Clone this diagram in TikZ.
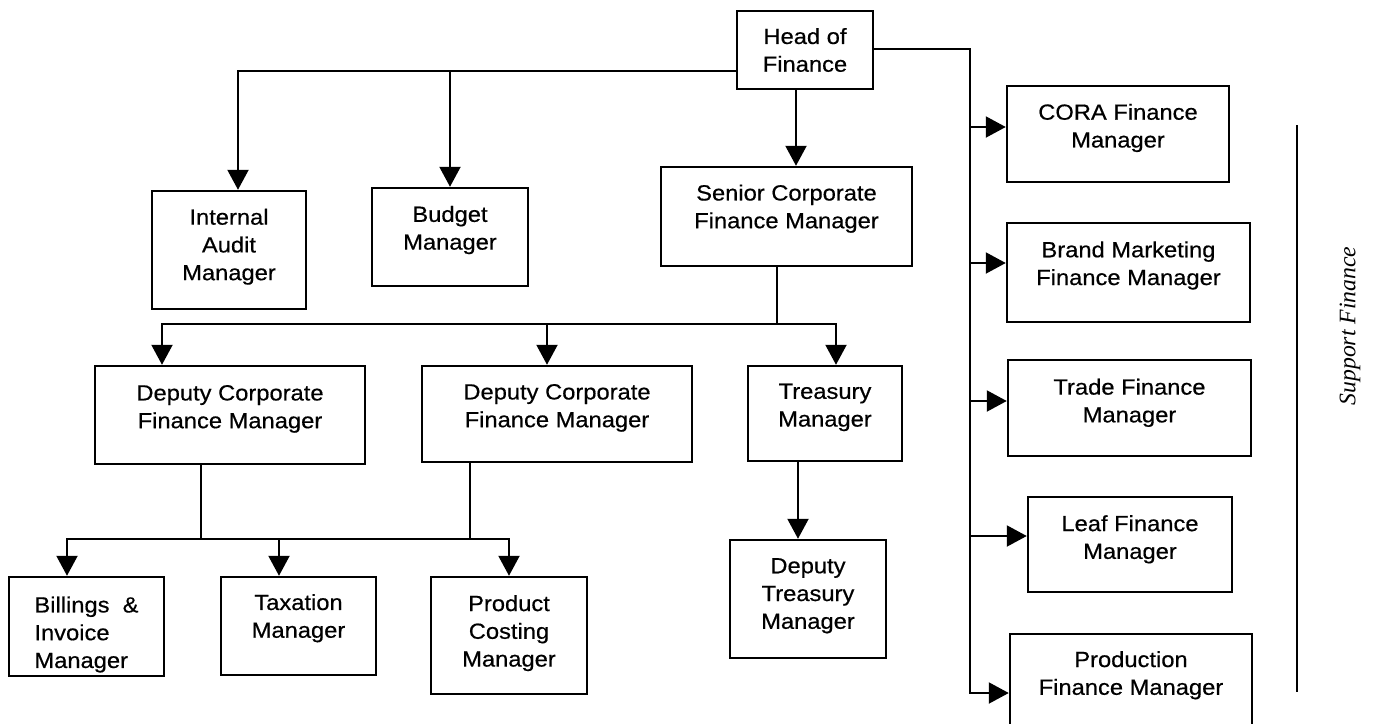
\documentclass[tikz,border=0pt]{standalone}
\usepackage{fontspec}
\setmainfont{Liberation Sans}[FakeStretch=1.08, FakeBold=0.5]
\newfontfamily\sidefont{Liberation Serif}
\usetikzlibrary{arrows.meta,calc}
\tikzset{
  box/.style   = {rectangle, draw=black, line width=1.4pt, align=center,
                  inner sep=0pt, font=\fontsize{12.5}{15.8}\selectfont},
  sz/.style 2 args = {minimum width=#1*0.02cm, minimum height=#2*0.02cm},
  up/.style    = {text depth=#1},
  up/.default  = 9.5pt,
  ln/.style    = {line width=1.2pt},
  arr/.style   = {ln, -{Triangle[length=0.4cm, width=0.42cm]}},
}

\begin{document}
\begin{tikzpicture}[x=0.02cm, y=-0.02cm]
  \clip (0,0) rectangle (1374,724);
  % top level
  \node[box, sz={136}{78}] (head) at (805,50) {Head of\\Finance};
  \node[box, up=6.3pt, sz={154}{118}] (audit) at (229,250) {Internal\\Audit\\Manager};
  \node[box, up=10.5pt, sz={156}{98}] (budget) at (450,237) {Budget\\Manager};
  \node[box, up=11.5pt, sz={251}{99}] (senior) at (786.5,216.5) {Senior Corporate\\Finance Manager};
  % corporate finance
  \node[box, up, sz={270}{98}] (dep1) at (230,415) {Deputy Corporate\\Finance Manager};
  \node[box, up, sz={270}{96}] (dep2) at (557,414) {Deputy Corporate\\Finance Manager};
  \node[box, up, sz={154}{95}] (treas) at (825,413.5) {Treasury\\Manager};
  \node[box, align=left, text height=49.8pt, sz={155}{99}] (bill) at (86.5,626.5) {Billings\ \ \&\\Invoice\\Manager};
  \node[box, up=11.5pt, sz={155}{98}] (tax) at (298.5,626) {Taxation\\Manager};
  \node[box, up=5.3pt, sz={156}{117}] (prod) at (509,635.5) {Product\\Costing\\Manager};
  \node[box, up=6.3pt, sz={156}{118}] (dtreas) at (808,599) {Deputy\\Treasury\\Manager};
  % support finance
  \node[box, up, sz={222}{96}] (cora) at (1118,134) {CORA Finance\\Manager};
  \node[box, up=10.6pt, sz={243}{99}] (brand) at (1128.5,272.5) {Brand Marketing\\Finance Manager};
  \node[box, up=8.5pt, sz={243}{96}] (trade) at (1129.5,408) {Trade Finance\\Manager};
  \node[box, up=8.5pt, sz={204}{95}] (leaf) at (1130,544.5) {Leaf Finance\\Manager};
  \node[box, up=16pt, sz={242}{106}] (pfin) at (1131,687) {Production\\Finance Manager};
  \node[rotate=90, font=\sidefont\itshape\fontsize{13.5}{16}\selectfont] (supp) at (1350,326) {Support Finance};

  % head -> audit, budget, senior
  \coordinate (hw) at ($(head.west)+(0,21)$);
  \coordinate (ain) at ($(audit.north)+(9,0)$);
  \draw[arr] (hw) -| (ain);
  \draw[arr] (hw -| budget.north) -- (budget.north);
  \coordinate (hs) at ($(head.south)+(-9,0)$);
  \draw[arr] (hs) -- (hs |- senior.north);

  % senior -> deputies, treasury
  \coordinate (ss) at ($(senior.south)+(-9.5,0)$);
  \coordinate (bus1) at ($(ss)+(0,57)$);
  \coordinate (d1in) at ($(dep1.north)+(-68,0)$);
  \coordinate (d2in) at ($(dep2.north)+(-10,0)$);
  \coordinate (trin) at ($(treas.north)+(11,0)$);
  \draw[arr] (ss) -- (bus1) -| (d1in);
  \draw[arr] (bus1) -| (trin);
  \draw[arr] (d2in |- bus1) -- (d2in);

  % deputies -> billings, taxation, costing
  \coordinate (d1out) at ($(dep1.south)+(-29,0)$);
  \coordinate (d2out) at ($(dep2.south)+(-87,0)$);
  \coordinate (bus2) at ($(d1out)+(0,74)$);
  \coordinate (bin) at ($(bill.north)+(-19.5,0)$);
  \coordinate (tin) at ($(tax.north)+(-19.5,0)$);
  \draw[arr] (d1out) -- (bus2) -| (bin);
  \draw[arr] (d2out) -- (d2out |- bus2) -| (prod.north);
  \draw[ln] (bus2) -- (d2out |- bus2);
  \draw[arr] (tin |- bus2) -- (tin);

  % treasury -> deputy treasury
  \coordinate (tout) at ($(treas.south)+(-27,0)$);
  \draw[arr] (tout) -- (tout |- dtreas.north);

  % head -> support finance
  \coordinate (he) at ($(head.east)+(0,-1)$);
  \coordinate (trunk) at (970,693);
  \foreach \n/\d in {cora/-7, brand/-9.5, trade/-7, leaf/-8.5, pfin/6}
    \coordinate (\n-in) at ($(\n.west)+(0,\d)$);
  \draw[arr] (he) -| (trunk) -- (pfin-in);
  \foreach \n in {cora, brand, trade, leaf}
    \draw[arr] (trunk |- \n-in) -- (\n-in);
  \draw[ln] (1297,125) -- (1297,692);
\end{tikzpicture}
\end{document}
